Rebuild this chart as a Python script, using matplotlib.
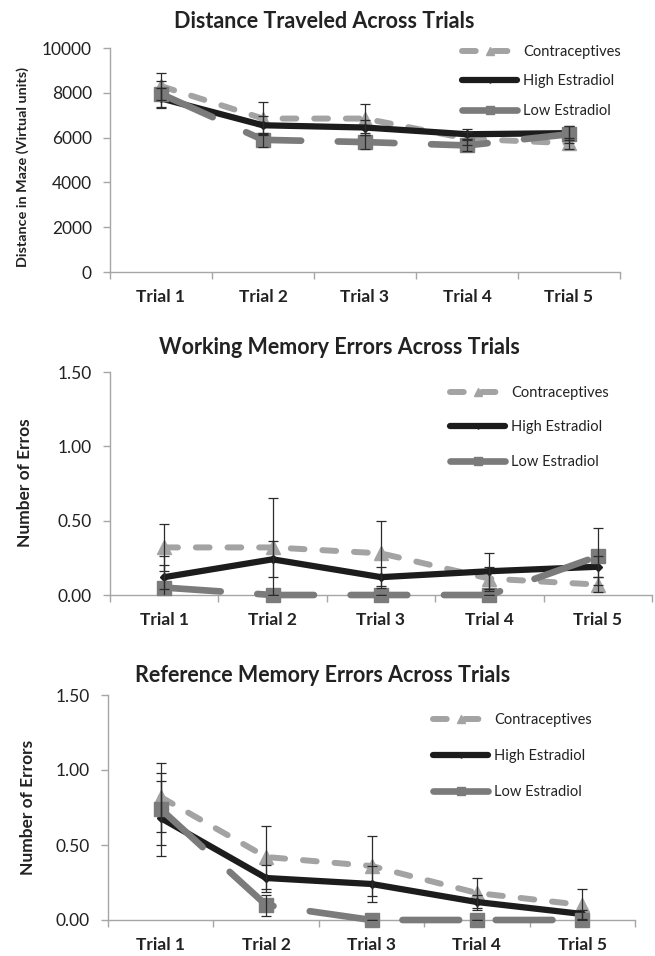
import matplotlib.pyplot as plt
from matplotlib.ticker import FixedLocator, FormatStrFormatter

plt.rcParams['font.family'] = ['Lato', 'DejaVu Sans']

trials = ['Trial 1', 'Trial 2', 'Trial 3', 'Trial 4', 'Trial 5']
groups = ['Contraceptives', 'High Estradiol', 'Low Estradiol']

# distance travelled (virtual units)
dist_contra = [8300, 6850, 6850, 5950, 5750]
dist_contra_err = [600, 750, 650, 300, 250]
dist_high = [7750, 6550, 6450, 6150, 6200]
dist_high_err = [450, 400, 350, 230, 320]
dist_low = [7950, 5900, 5800, 5650, 6150]
dist_low_err = [580, 300, 300, 250, 370]

# working memory errors
wm_contra = [0.32, 0.32, 0.28, 0.11, 0.07]
wm_contra_err = [0.16, 0.33, 0.22, 0.08, 0.05]
wm_high = [0.12, 0.24, 0.12, 0.16, 0.19]
wm_high_err = [0.08, 0.12, 0.07, 0.12, 0.07]
wm_low = [0.05, 0.0, 0.0, 0.0, 0.26]
wm_low_err = [0.21, 0.0, 0.0, 0.0, 0.19]

# reference memory errors
rm_contra = [0.82, 0.42, 0.36, 0.18, 0.10]
rm_contra_err = [0.23, 0.21, 0.20, 0.10, 0.11]
rm_high = [0.68, 0.28, 0.24, 0.12, 0.04]
rm_high_err = [0.25, 0.09, 0.12, 0.05, 0.03]
rm_low = [0.74, 0.10, 0.0, 0.0, 0.0]
rm_low_err = [0.24, 0.07, 0.0, 0.0, 0.0]

W, H = 655, 956
fig = plt.figure(figsize=(W / 100, H / 100), dpi=100)

AXIS_GRAY = '#a6a6a6'
styles = {
    'Contraceptives': dict(color='#a3a3a3', lw=4.3, marker='^', ms=10,
                           dashes=(2.3, 3.0), dash_capstyle='round'),
    'High Estradiol': dict(color='#1c1c1c', lw=4.5, marker='D', ms=4.5,
                           solid_capstyle='round'),
    'Low Estradiol': dict(color='#7b7b7b', lw=4.8, marker='s', ms=10,
                          dashes=(8.5, 5.5), dash_capstyle='round'),
}


def px_box(left, right, top, bottom):
    return [left / W, 1 - bottom / H, (right - left) / W, (bottom - top) / H]


def panel(box, series, ymax, yticks, fmt, title, title_xy, ylabel, ylab_xy,
          ylab_size, leg_xy, leg_space):
    ax = fig.add_axes(px_box(*box))
    x = list(range(len(trials)))
    for name, (vals, errs) in zip(groups, series):
        st = styles[name]
        ax.plot(x, vals, label=name, mec=st['color'], mfc=st['color'],
                zorder=3, clip_on=False, **st)
        ax.errorbar(x, vals, yerr=errs, fmt='none', ecolor='#2b2b2b',
                    elinewidth=0.9, capsize=3.5, capthick=0.9, zorder=5)
    ax.set_xlim(-0.5, len(trials) - 0.5)
    ax.set_ylim(0, ymax)
    ax.set_yticks(yticks)
    ax.yaxis.set_major_formatter(FormatStrFormatter(fmt))
    ax.set_xticks(x)
    ax.set_xticklabels(trials, fontsize=12.5, fontweight='bold', color='#222222')
    ax.xaxis.set_minor_locator(FixedLocator([i - 0.5 for i in range(len(trials) + 1)]))
    ax.tick_params(axis='x', which='major', length=0, pad=12)
    ax.tick_params(axis='x', which='minor', length=5, color=AXIS_GRAY, width=1)
    ax.tick_params(axis='y', length=5, color=AXIS_GRAY, width=1, pad=8,
                   labelsize=12.5, labelcolor='#222222')
    for s in ['top', 'right']:
        ax.spines[s].set_visible(False)
    for s in ['left', 'bottom']:
        ax.spines[s].set_color(AXIS_GRAY)
        ax.spines[s].set_linewidth(1)
    ax.patch.set_visible(False)

    fig.text(title_xy[0] / W, 1 - title_xy[1] / H, title, ha='center', va='center',
             fontsize=15.5, fontweight='bold', color='#222222')
    fig.text(ylab_xy[0] / W, 1 - ylab_xy[1] / H, ylabel, ha='center', va='center',
             rotation=90, fontsize=ylab_size, fontweight='bold', color='#222222')
    ax.legend(loc='upper left', bbox_to_anchor=(leg_xy[0] / W, 1 - leg_xy[1] / H),
              bbox_transform=fig.transFigure, frameon=False, fontsize=10.5,
              handlelength=3.8, handletextpad=0.4, labelspacing=leg_space,
              borderpad=0, borderaxespad=0, labelcolor='#222222', markerscale=0.6)
    return ax


panel((110, 620, 48, 272),
      [(dist_contra, dist_contra_err), (dist_high, dist_high_err), (dist_low, dist_low_err)],
      10000, [0, 2000, 4000, 6000, 8000, 10000], '%d',
      'Distance Traveled Across Trials', (324, 22),
      'Distance in Maze (Virtual units)', (23, 167), 10.4,
      (462, 45), 1.05)

panel((110, 652, 372, 595),
      [(wm_contra, wm_contra_err), (wm_high, wm_high_err), (wm_low, wm_low_err)],
      1.5, [0, 0.5, 1.0, 1.5], '%.2f',
      'Working Memory Errors Across Trials', (339, 348),
      'Number of Erros', (25, 483), 12.5,
      (450, 386), 1.4)

panel((108, 635, 695, 920),
      [(rm_contra, rm_contra_err), (rm_high, rm_high_err), (rm_low, rm_low_err)],
      1.5, [0, 0.5, 1.0, 1.5], '%.2f',
      'Reference Memory Errors Across Trials', (323, 675),
      'Number of Errors', (28, 807), 12.5,
      (433, 713), 1.5)

fig.savefig('out.png', dpi=100)
